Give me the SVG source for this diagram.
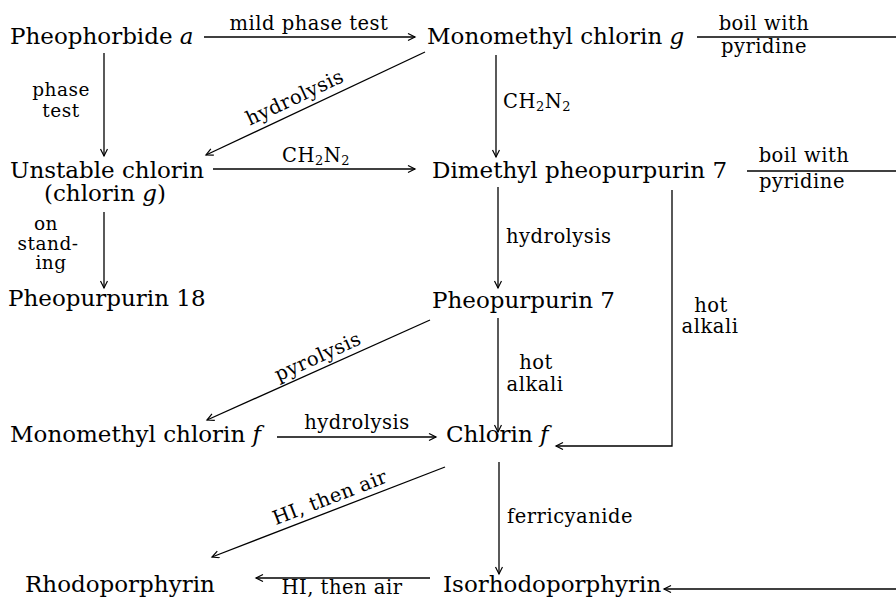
<svg xmlns="http://www.w3.org/2000/svg" width="896" height="605" viewBox="0 0 896 605">
<defs>
<marker id="ah" markerWidth="10" markerHeight="10" refX="8" refY="4" orient="auto" markerUnits="userSpaceOnUse">
<path d="M1,0.5 L8,4 L1,7.5" fill="none" stroke="#000" stroke-width="1.2"/>
</marker>
<style>
.n{font-family:"DejaVu Serif","Liberation Serif",serif;font-size:23px;fill:#000}
.l{font-family:"DejaVu Serif","Liberation Serif",serif;font-size:19.5px;letter-spacing:0.5px;fill:#000}
.s{font-size:18.5px}
.c{text-anchor:middle}
.i{font-style:italic}
.sub{font-size:13px}
.e line,.e path{stroke:#000;stroke-width:1.3;fill:none}
.a{marker-end:url(#ah)}
</style>
</defs>
<rect width="896" height="605" fill="#fff"/>
<g id="connectors" class="e">
<line class="a" x1="204" y1="37" x2="415" y2="37"/>
<line x1="697" y1="37" x2="896" y2="37"/>
<line class="a" x1="104" y1="53" x2="104" y2="156"/>
<line class="a" x1="425" y1="52" x2="206" y2="155"/>
<line class="a" x1="213" y1="169" x2="415" y2="169"/>
<line class="a" x1="496" y1="55" x2="496" y2="157"/>
<line x1="747" y1="171" x2="896" y2="171"/>
<line class="a" x1="104" y1="212" x2="104" y2="288"/>
<line class="a" x1="498" y1="187" x2="498" y2="288"/>
<path class="a" d="M672,190 L672,446 L556,446"/>
<line class="a" x1="498" y1="318" x2="498" y2="432"/>
<line class="a" x1="430" y1="320" x2="207" y2="420"/>
<line class="a" x1="277" y1="437" x2="436" y2="437"/>
<line class="a" x1="445" y1="467" x2="212" y2="557"/>
<line class="a" x1="499" y1="462" x2="499" y2="574"/>
<line class="a" x1="896" y1="589" x2="664" y2="589"/>
<line class="a" x1="430" y1="578" x2="256" y2="578"/>
<g id="labels">
<text class="l c" x="309" y="30">mild phase test</text>
<text class="l c" x="764" y="30">boil with</text>
<text class="l c" x="764" y="53">pyridine</text>
<text class="l c s" x="61" y="96">phase</text>
<text class="l c s" x="61" y="117">test</text>
<text class="l c" transform="translate(295,98) rotate(-25.1)" y="6">hydrolysis</text>
<text class="l c" x="316" y="162">CH<tspan class="sub" dy="3">2</tspan><tspan dy="-3">N</tspan><tspan class="sub" dy="3">2</tspan></text>
<text class="l" x="503" y="108">CH<tspan class="sub" dy="3">2</tspan><tspan dy="-3">N</tspan><tspan class="sub" dy="3">2</tspan></text>
<text class="l c" x="804" y="162">boil with</text>
<text class="l c" x="802" y="188">pyridine</text>
<text class="l c s" x="46" y="230">on</text>
<text class="l c s" x="48" y="250">stand-</text>
<text class="l c s" x="51" y="269">ing</text>
<text class="l" x="506" y="243">hydrolysis</text>
<text class="l c" x="711" y="312">hot</text>
<text class="l c" x="710" y="333">alkali</text>
<text class="l c" x="536" y="369">hot</text>
<text class="l c" x="535" y="391">alkali</text>
<text class="l c" transform="translate(318,357) rotate(-24.2)" y="6">pyrolysis</text>
<text class="l c" x="357" y="429">hydrolysis</text>
<text class="l c" transform="translate(330,498) rotate(-21.1)" y="6">HI, then air</text>
<text class="l" x="507" y="523">ferricyanide</text>
<text class="l c" x="342" y="594">HI, then air</text>
</g>
</g>
<g id="n1"><text class="n" x="10" y="44">Pheophorbide <tspan class="i">a</tspan></text></g>
<g id="n2"><text class="n" x="427" y="44">Monomethyl chlorin <tspan class="i">g</tspan></text></g>
<g id="n3"><text class="n"><tspan x="10" y="178">Unstable chlorin</tspan><tspan x="44" y="201">(chlorin <tspan class="i">g</tspan>)</tspan></text></g>
<g id="n4"><text class="n" x="432" y="178">Dimethyl pheopurpurin 7</text></g>
<g id="n5"><text class="n" x="8" y="306">Pheopurpurin 18</text></g>
<g id="n6"><text class="n" x="432" y="308">Pheopurpurin 7</text></g>
<g id="n7"><text class="n" x="10" y="442">Monomethyl chlorin <tspan class="i">f</tspan></text></g>
<g id="n8"><text class="n" x="446" y="442">Chlorin <tspan class="i">f</tspan></text></g>
<g id="n9"><text class="n" x="25" y="592">Rhodoporphyrin</text></g>
<g id="n10"><text class="n" x="443" y="592">Isorhodoporphyrin</text></g>
</svg>
